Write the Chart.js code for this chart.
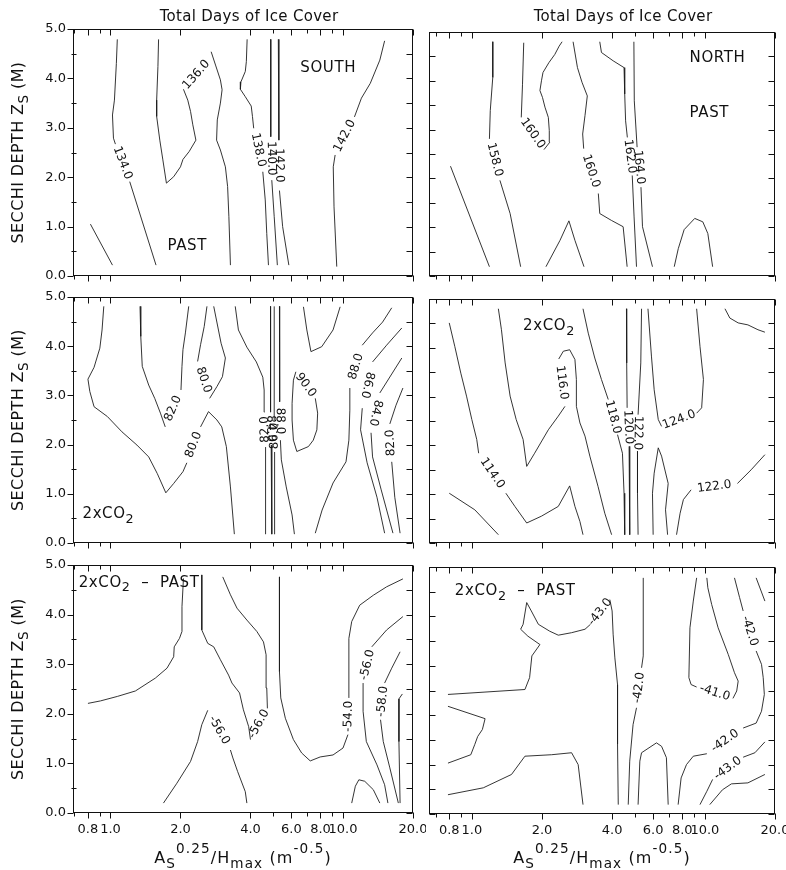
<!DOCTYPE html>
<html>
<head>
<meta charset="utf-8">
<script src="https://cdn.jsdelivr.net/npm/chart.js@4.4.1/dist/chart.umd.min.js"></script>
<style>
  html, body { margin: 0; padding: 0; background: #fff; }
  #wrap { position: relative; width: 786px; height: 870px; overflow: hidden; background: #fff; }
  #wrap canvas { position: absolute; }
</style>
</head>
<body>
<div id="wrap"></div>
<script>
const FONT = '"DejaVu Sans", "Liberation Sans", sans-serif';
const INK = '#111';
const LINE = '#1e1e1e';

// Axis ticks (x is As^0.25/Hmax on a log axis, y is Secchi depth in metres)
const X_TICKS = [0.7, 0.8, 0.9, 1, 2, 4, 5, 6, 7, 8, 9, 10, 20];
const X_LABELS = [0.8, 1, 2, 4, 6, 8, 10, 20];
const Y_TICKS = [0, 0.5, 1, 1.5, 2, 2.5, 3, 3.5, 4, 4.5, 5];
const Y_LABELS = [0, 1, 2, 3, 4, 5];

// Contours: each one is a level and a list of polyline pieces [x, y];
// a label with the level sits in the gap between consecutive pieces.
const SOUTH_PAST = [
  { level: 132, pieces: [[[0.82,1.05],[1.02,0.22]]] },
  { level: 134, pieces: [
      [[1.07,4.79],[1.06,4.30],[1.04,3.56],[1.02,3.26],[1.03,2.79],[1.05,2.67]],
      [[1.21,1.91],[1.57,0.22]] ] },
  { level: 136, pieces: [
      [[1.61,4.79],[1.60,4.24],[1.58,3.56],[1.58,3.23],[1.63,2.75],[1.68,2.35],[1.74,1.88],[1.87,2.01],[2.00,2.21],[2.05,2.36],[2.18,2.52],[2.33,2.75],[2.26,3.06],[2.21,3.33],[2.15,3.56],[2.06,3.78]],
      [[2.66,4.37]] ] },
  { level: 136, pieces: [
      [[2.71,4.54],[2.83,4.27],[2.97,3.97],[3.02,3.77],[2.97,3.50],[2.88,3.16],[2.86,2.75],[2.97,2.55],[3.12,2.21],[3.19,1.81],[3.23,1.20],[3.28,0.22]] ] },
  { level: 138, pieces: [
      [[3.87,4.79],[3.84,4.34],[3.80,4.14],[3.64,3.93],[3.62,3.78],[3.80,3.63],[4.03,3.44],[4.08,3.23],[4.13,2.99]],
      [[4.52,2.11],[4.63,1.54],[4.70,0.86],[4.78,0.22]] ] },
  { level: 140, pieces: [
      [[4.89,4.79],[4.89,2.82]],
      [[4.94,1.94],[5.06,1.20],[5.22,0.22]] ] },
  { level: 142, pieces: [
      [[5.27,4.79],[5.30,2.75]],
      [[5.33,1.73],[5.50,1.00],[5.85,0.22]] ] },
  { level: 142, pieces: [
      [[9.4,0.19],[9.15,1.40],[9.08,2.21],[9.25,2.45]],
      [[11.2,3.22],[12.0,3.60],[13.1,3.90],[14.4,4.37],[15.1,4.76]] ] }
];

const NORTH_PAST = [
  { level: 156, pieces: [[[0.81,2.25],[1.19,0.19]]] },
  { level: 158, pieces: [
      [[1.23,4.80],[1.23,4.07],[1.20,3.39],[1.19,2.81]],
      [[1.32,1.96],[1.46,1.28],[1.62,0.19]] ] },
  { level: 160, pieces: [
      [[1.67,4.78],[1.65,3.93],[1.63,3.25]],
      [[2.04,2.59],[2.16,2.74],[2.15,2.98],[2.13,3.25],[2.06,3.46],[2.01,3.66],[1.96,3.80],[1.99,4.00],[2.02,4.17],[2.14,4.37],[2.27,4.54],[2.37,4.71],[2.44,4.80]] ] },
  { level: 160, pieces: [
      [[2.72,4.80],[2.84,4.27],[2.97,3.97],[3.13,3.69],[3.06,3.29],[2.99,2.91],[3.02,2.61]],
      [[3.49,1.69],[3.54,1.28],[3.97,1.14],[4.46,1.01],[4.64,0.19]] ] },
  { level: 162, pieces: [
      [[3.54,4.80],[3.60,4.58],[4.04,4.41],[4.50,4.27],[4.53,3.73],[4.57,3.18],[4.65,2.84]],
      [[4.88,2.06],[4.97,1.21],[5.09,0.19]] ] },
  { level: 164, pieces: [
      [[4.96,4.80],[4.98,3.59],[5.12,2.64]],
      [[5.32,1.82],[5.40,1.01],[5.96,0.19]] ] },
  { level: 160, pieces: [[[2.08,0.19],[2.39,0.73],[2.61,1.13],[2.77,0.73],[3.03,0.19]]] },
  { level: 166, pieces: [[[7.39,0.19],[7.69,0.56],[8.15,0.95],[9.05,1.18],[9.8,1.11],[10.3,0.87],[10.8,0.19]]] }
];

const SOUTH_2XCO2 = [
  { level: 80, pieces: [
      [[0.936,4.81],[0.92,4.33],[0.90,3.96],[0.85,3.57],[0.80,3.33],[0.815,3.08],[0.85,2.77],[0.97,2.57],[1.12,2.26],[1.30,1.99],[1.46,1.75],[1.59,1.41],[1.73,1.02],[1.87,1.21],[2.05,1.45],[2.13,1.63]],
      [[2.44,2.36],[2.64,2.67],[2.87,2.50],[3.01,2.36],[3.15,1.96],[3.28,1.14],[3.41,0.18]] ] },
  { level: 82, pieces: [
      [[1.34,4.81],[1.35,4.20],[1.37,3.59],[1.46,3.21],[1.55,2.94],[1.64,2.64],[1.72,2.36]],
      [[2.01,3.11],[2.03,3.59],[2.05,3.93],[2.10,4.27],[2.17,4.81]] ] },
  { level: 80, pieces: [
      [[2.60,4.81],[2.53,4.40],[2.44,4.03],[2.37,3.69]],
      [[2.67,2.94],[2.87,3.18],[3.03,3.38],[3.12,3.76],[2.99,4.06],[2.78,4.81]] ] },
  { level: 82, pieces: [
      [[4.65,0.18],[4.65,1.28],[4.64,1.95]],
      [[4.60,2.66],[4.58,3.11],[4.52,3.37],[4.24,3.68],[3.86,3.98],[3.55,4.33],[3.44,4.81]] ] },
  { level: 84, pieces: [
      [[4.88,4.81],[4.88,2.66]],
      [[4.91,1.99],[4.94,0.18]] ] },
  { level: 86, pieces: [
      [[5.09,0.18],[5.08,1.85]],
      [[5.06,2.50],[5.06,4.81]] ] },
  { level: 88, pieces: [
      [[5.33,4.81],[5.34,2.87]],
      [[5.38,2.09],[5.43,1.69],[5.70,1.14],[6.04,0.57],[6.18,0.18]] ] },
  { level: 90, pieces: [[[6.76,4.80],[6.99,4.33],[7.28,3.89],[8.10,3.99],[9.06,4.33],[9.72,4.80]]] },
  { level: 90, pieces: [
      [[7.6,2.94],[7.78,2.64],[7.72,2.30],[7.45,2.09],[7.1,1.96],[6.33,1.86],[6.12,2.09],[6.04,2.50],[6.04,2.84],[6.12,3.31],[6.27,3.48]],
      [[7.6,2.94]] ] },
  { level: 88, pieces: [
      [[7.6,0.20],[8.13,0.67],[9.06,1.22],[10.3,1.65],[10.6,2.09],[10.7,2.70],[10.7,3.15]],
      [[12.1,4.02],[13.4,4.27],[14.8,4.49],[16.2,4.78]] ] },
  { level: 86, pieces: [
      [[17.9,4.37],[15.4,4.02],[13.4,3.68]],
      [[12.1,2.74],[11.9,2.30],[12.7,1.63],[14.0,0.93],[15.1,0.20]] ] },
  { level: 84, pieces: [
      [[17.9,3.76],[14.4,3.05]],
      [[13.2,2.24],[13.4,1.75],[14.6,1.08],[16.4,0.20]] ] },
  { level: 82, pieces: [
      [[17.6,0.20],[16.7,0.93],[16.2,1.65]],
      [[15.9,2.42],[16.9,2.80],[18.1,3.15]] ] }
];

const NORTH_2XCO2 = [
  { level: 114, pieces: [
      [[0.80,4.51],[0.845,4.03],[0.897,3.48],[0.949,3.01],[1.0,2.53],[1.05,2.12],[1.07,1.84]],
      [[1.40,1.02],[1.53,0.75],[1.72,0.41],[1.99,0.55],[2.35,0.75],[2.63,1.17],[2.77,0.75],[2.91,0.44],[3.0,0.17]] ] },
  { level: 112, pieces: [[[0.80,1.02],[1.03,0.68],[1.30,0.17]]] },
  { level: 116, pieces: [
      [[3.98,0.17],[3.72,0.61],[3.48,1.16],[3.21,1.78],[3.06,2.19],[2.91,2.46],[2.81,2.80],[2.81,3.35],[2.77,3.76],[2.63,3.96],[2.47,3.93],[2.36,3.77]],
      [[2.51,2.80],[2.35,2.60],[2.13,2.32],[1.86,1.84],[1.72,1.57],[1.66,2.12],[1.55,2.53],[1.46,3.01],[1.39,3.69],[1.34,4.37],[1.30,4.80]] ] },
  { level: 118, pieces: [
      [[3.0,4.80],[3.16,4.30],[3.37,3.79],[3.60,3.35],[3.85,2.94]],
      [[4.22,2.22],[4.43,1.84],[4.50,1.02],[4.53,0.17]] ] },
  { level: 120, pieces: [
      [[4.61,4.80],[4.62,3.69],[4.64,2.77]],
      [[4.73,1.98],[4.76,1.02],[4.76,0.17]] ] },
  { level: 122, pieces: [
      [[5.35,4.80],[5.31,3.69],[5.17,2.63]],
      [[5.14,1.88],[5.14,1.02],[5.17,0.17]] ] },
  { level: 124, pieces: [
      [[5.70,4.80],[5.90,3.83],[6.06,3.14],[6.31,2.53],[6.52,2.39]],
      [[9.22,2.66],[9.69,2.77],[9.86,3.35],[9.53,4.03],[9.22,4.80]] ] },
  { level: 124, pieces: [[[12.2,4.80],[12.8,4.61],[13.9,4.51],[15.3,4.47],[16.9,4.37],[18.1,4.32]]] },
  { level: 122, pieces: [
      [[7.56,0.17],[7.83,0.61],[8.09,0.89],[8.73,1.09]],
      [[13.8,1.22],[15.8,1.50],[18.1,1.81]] ] },
  { level: 124, pieces: [[[6.0,0.17],[5.96,1.02],[6.06,1.43],[6.31,1.95],[6.52,1.78],[6.96,1.22],[6.78,0.68],[6.92,0.17]]] }
];

const SOUTH_DIFF = [
  { level: -54, pieces: [[[0.80,2.21],[0.906,2.26],[1.07,2.35],[1.28,2.46],[1.56,2.72],[1.75,2.92],[1.87,3.15],[1.88,3.35],[1.98,3.52],[2.03,3.66],[2.03,4.16],[2.06,4.73]]] },
  { level: -56, pieces: [
      [[2.47,4.80],[2.47,3.69],[2.62,3.42],[2.78,3.35],[2.97,3.09],[3.22,2.78],[3.33,2.62],[3.59,2.42],[3.73,2.08],[3.93,1.74],[4.0,1.48]],
      [[4.73,2.11],[4.70,2.52],[4.67,3.19],[4.55,3.45],[4.26,3.66],[3.86,3.89],[3.50,4.13],[3.28,4.40],[3.04,4.76]] ] },
  { level: -56, pieces: [
      [[1.69,0.20],[1.93,0.60],[2.21,1.04],[2.37,1.44],[2.47,1.78],[2.62,2.07]],
      [[3.28,1.27],[3.36,1.11],[3.52,0.84],[3.80,0.43],[3.86,0.20]] ] },
  { level: -54, pieces: [
      [[5.33,4.76],[5.33,2.85],[5.40,2.32],[5.65,1.91],[6.12,1.48],[6.64,1.21],[7.23,1.05],[7.98,1.13],[9.06,1.17],[10.0,1.31],[10.5,1.58]],
      [[10.6,2.32],[10.6,3.52],[10.9,3.86],[11.8,4.19],[13.5,4.39],[15.4,4.56],[18.1,4.72]] ] },
  { level: -56, pieces: [
      [[15.6,0.20],[15.1,0.57],[14.0,0.97],[12.6,1.44],[12.2,2.05],[12.2,2.62]],
      [[13.3,3.35],[15.4,3.69],[18.1,3.96]] ] },
  { level: -58, pieces: [
      [[17.3,0.20],[15.9,0.91],[14.9,1.44],[14.5,1.88]],
      [[15.1,2.62],[16.2,2.92],[17.6,3.25]] ] },
  { level: -60, pieces: [[[18.0,2.40],[17.4,2.30],[17.4,1.44],[17.6,0.20]]] },
  { level: -52, pieces: [[[10.9,0.20],[11.3,0.54],[11.7,0.67],[12.4,0.64],[13.5,0.47],[14.4,0.20]]] }
];

const NORTH_DIFF = [
  { level: -43, pieces: [
      [[0.79,2.42],[1.69,2.52],[1.77,2.76],[1.81,3.20],[1.96,3.43],[1.74,3.60],[1.62,3.74],[1.66,3.84],[1.72,4.28],[1.80,4.11],[1.93,3.84],[2.16,3.70],[2.35,3.62],[2.68,3.67],[3.06,3.74],[3.23,3.84]],
      [[3.91,4.34],[4.0,4.11],[4.04,3.64],[4.11,3.16],[4.22,2.62],[4.22,1.41],[4.25,0.19]] ] },
  { level: -44, pieces: [[[0.79,2.18],[1.14,1.93],[1.11,1.71],[1.06,1.57],[1.03,1.41],[0.99,1.20],[0.79,1.03]]] },
  { level: -43, pieces: [[[0.79,0.39],[1.12,0.53],[1.48,0.80],[1.69,1.17],[2.20,1.20],[2.68,1.24],[2.86,1.00],[3.0,0.19]]] },
  { level: -42, pieces: [
      [[4.69,0.19],[4.76,1.07],[4.92,1.81],[5.09,2.15]],
      [[5.35,2.96],[5.44,3.20],[5.44,4.78]] ] },
  { level: -42, pieces: [[[5.17,0.19],[5.26,1.07],[5.35,1.24],[6.20,1.44],[6.52,1.37],[6.84,1.14],[6.96,0.19]]] },
  { level: -41, pieces: [
      [[9.22,4.78],[8.92,4.31],[8.63,3.77],[8.54,2.76],[8.73,2.62],[9.22,2.57]],
      [[13.2,2.34],[13.7,2.49],[13.9,2.69],[13.4,2.86],[12.6,3.23],[11.4,3.77],[10.7,4.24],[10.3,4.58],[10.2,4.78]] ] },
  { level: -42, pieces: [
      [[13.4,4.78],[14.1,4.38],[14.6,4.11]],
      [[16.6,3.30],[17.5,3.03],[17.8,2.76],[18.0,2.42],[17.5,2.08],[16.6,1.84],[14.6,1.74]] ] },
  { level: -42, pieces: [
      [[7.68,0.19],[7.91,0.73],[8.34,1.00],[8.92,1.17],[10.2,1.22]],
      [[14.6,1.74]] ] },
  { level: -43, pieces: [
      [[9.53,0.19],[10.2,0.46],[10.8,0.70]],
      [[14.6,1.15],[16.4,1.24],[18.1,1.46]] ] },
  { level: -44, pieces: [[[10.5,0.19],[11.9,0.49],[13.0,0.61],[15.3,0.63],[18.1,0.80]]] },
  { level: -43, pieces: [[[16.6,4.78],[18.1,4.31]]] }
];

// Page layout of the two columns and three rows of panels
const COLS = [
  { left: 0,   width: 426, axisW: 73, padRight: 13, xMin: 0.69,  titleX: 249 },
  { left: 416, width: 370, axisW: 13, padRight: 11, xMin: 0.655, titleX: 623 }
];
const ROWS = [
  { top: 0,   height: 287, padTop: [29, 32], axisH: [11, 11] },
  { top: 287, height: 266, padTop: [10, 12], axisH: [10, 10] },
  { top: 553, height: 317, padTop: [12, 14], axisH: [57, 56] }
];

const SUB = 1, SUP = 2;
const PANELS = [
  { key: 'sp', row: 0, col: 0, contours: SOUTH_PAST,
    notes: [ { parts: [['SOUTH', 0]], at: [6.55, 4.13] }, { parts: [['PAST', 0]], at: [1.76, 0.53] } ] },
  { key: 'np', row: 0, col: 1, contours: NORTH_PAST,
    notes: [ { parts: [['NORTH', 0]], at: [8.6, 4.39] }, { parts: [['PAST', 0]], at: [8.6, 3.26] } ] },
  { key: 's2', row: 1, col: 0, contours: SOUTH_2XCO2,
    notes: [ { parts: [['2xCO', 0], ['2', SUB]], at: [0.758, 0.50] } ] },
  { key: 'n2', row: 1, col: 1, contours: NORTH_2XCO2,
    notes: [ { parts: [['2xCO', 0], ['2', SUB]], at: [1.66, 4.36] } ] },
  { key: 'sd', row: 2, col: 0, contours: SOUTH_DIFF,
    notes: [ { parts: [['2xCO', 0], ['2', SUB], ['  \u2013  PAST', 0]], at: [0.73, 4.56] } ] },
  { key: 'nd', row: 2, col: 1, contours: NORTH_DIFF,
    notes: [ { parts: [['2xCO', 0], ['2', SUB], ['  \u2013  PAST', 0]], at: [0.845, 4.43] } ] }
];

// Text with sub/superscripts on one baseline
function drawRich(ctx, parts, x, y, size, align, spacing) {
  ctx.save();
  if ('letterSpacing' in ctx) ctx.letterSpacing = (spacing || 0) + 'px';
  ctx.textBaseline = 'alphabetic';
  ctx.textAlign = 'left';
  ctx.fillStyle = INK;
  const segs = parts.map(([t, m]) => {
    const s = m ? size * 0.85 : size;
    ctx.font = s + 'px ' + FONT;
    return { t, s, dy: m === SUB ? size * 0.3 : (m === SUP ? -size * 0.6 : 0), w: ctx.measureText(t).width };
  });
  const total = segs.reduce((a, g) => a + g.w, 0);
  let cx = align === 'center' ? x - total / 2 : x;
  for (const g of segs) {
    ctx.font = g.s + 'px ' + FONT;
    ctx.fillText(g.t, cx, y + g.dy);
    cx += g.w;
  }
  ctx.restore();
}

function decor(panel) {
  const col = COLS[panel.col], row = ROWS[panel.row];
  return {
    id: 'decor_' + panel.key,
    afterDatasetsDraw(chart) {
      const ctx = chart.ctx, a = chart.chartArea;
      const xs = chart.scales.x, ys = chart.scales.y;
      ctx.save();

      // contour level labels, laid along the gap between pieces
      ctx.font = '12px ' + FONT;
      ctx.fillStyle = INK;
      ctx.textAlign = 'center';
      ctx.textBaseline = 'middle';
      for (const c of panel.contours) {
        for (let i = 0; i + 1 < c.pieces.length; i++) {
          const p = c.pieces[i][c.pieces[i].length - 1];
          const q = c.pieces[i + 1][0];
          const x1 = xs.getPixelForValue(p[0]), y1 = ys.getPixelForValue(p[1]);
          const x2 = xs.getPixelForValue(q[0]), y2 = ys.getPixelForValue(q[1]);
          ctx.save();
          ctx.translate((x1 + x2) / 2, (y1 + y2) / 2);
          ctx.rotate(Math.atan2(y2 - y1, x2 - x1));
          ctx.fillText(c.level.toFixed(1), 0, 0);
          ctx.restore();
        }
      }

      // frame and tick marks
      ctx.strokeStyle = INK;
      ctx.lineWidth = 1;
      const L = Math.round(a.left) + 0.5, R = Math.round(a.right) - 0.5;
      const T = Math.round(a.top) + 0.5, B = Math.round(a.bottom) - 0.5;
      ctx.strokeRect(L, T, R - L, B - T);
      ctx.beginPath();
      for (const v of X_TICKS) {
        const px = Math.round(xs.getPixelForValue(v)) + 0.5;
        const len = X_LABELS.includes(v) ? 6 : 4;
        ctx.moveTo(px, T); ctx.lineTo(px, T + len);
        ctx.moveTo(px, B); ctx.lineTo(px, B + len);
      }
      for (const v of Y_TICKS) {
        const py = Math.round(ys.getPixelForValue(v)) + 0.5;
        const major = Y_LABELS.includes(v);
        if (panel.col === 0) {
          if (major) { ctx.moveTo(L - 6, py); ctx.lineTo(L, py); }
          else { ctx.moveTo(L - 2, py); ctx.lineTo(L + 3, py); }
        } else {
          ctx.moveTo(L, py); ctx.lineTo(L + 6, py);
        }
        ctx.moveTo(R, py); ctx.lineTo(R - 6, py);
      }
      ctx.stroke();

      // panel notes
      for (const n of panel.notes) {
        drawRich(ctx, n.parts, xs.getPixelForValue(n.at[0]), ys.getPixelForValue(n.at[1]), 15, 'left', 0.6);
      }

      // column title
      if (panel.row === 0) {
        drawRich(ctx, [['Total Days of Ice Cover', 0]], col.titleX - col.left, 21, 15, 'center', 0.3);
      }
      // y axis title
      if (panel.col === 0) {
        ctx.save();
        ctx.translate(23, (a.top + a.bottom) / 2);
        ctx.rotate(-Math.PI / 2);
        drawRich(ctx, [['SECCHI DEPTH Z', 0], ['S', SUB], [' (M)', 0]], 0, 0, 16, 'center', 0.4);
        ctx.restore();
      }
      // x axis title
      if (panel.row === 2) {
        drawRich(ctx, [['A', 0], ['S', SUB], ['0.25', SUP], ['/H', 0], ['max', SUB], [' (m', 0], ['-0.5', SUP], [')', 0]],
          (a.left + a.right) / 2, 863 - row.top, 16, 'center', 1.1);
      }
      ctx.restore();
    }
  };
}

function buildDatasets(contours) {
  const out = [];
  for (const c of contours) {
    for (const piece of c.pieces) {
      if (piece.length < 2) continue;
      out.push({
        data: piece.map(([x, y]) => ({ x, y })),
        showLine: true, borderColor: LINE, borderWidth: 0.9,
        pointRadius: 0, pointHoverRadius: 0, tension: 0, fill: false
      });
    }
  }
  return out;
}

const wrap = document.getElementById('wrap');
for (const panel of PANELS) {
  const col = COLS[panel.col], row = ROWS[panel.row];
  const cv = document.createElement('canvas');
  cv.width = col.width; cv.height = row.height;
  cv.style.left = col.left + 'px'; cv.style.top = row.top + 'px';
  cv.style.width = col.width + 'px'; cv.style.height = row.height + 'px';
  wrap.appendChild(cv);

  new Chart(cv.getContext('2d'), {
    type: 'scatter',
    data: { datasets: buildDatasets(panel.contours) },
    options: {
      responsive: false, animation: false, devicePixelRatio: 1, events: [],
      layout: { padding: { top: row.padTop[panel.col], right: col.padRight, bottom: 0, left: 0 } },
      plugins: { legend: { display: false }, tooltip: { enabled: false } },
      scales: {
        x: {
          type: 'logarithmic', position: 'bottom', min: col.xMin, max: 20,
          afterBuildTicks: s => { s.ticks = X_TICKS.map(v => ({ value: v })); },
          afterFit: s => { s.height = row.axisH[panel.col]; s.paddingLeft = 0; s.paddingRight = 0; },
          ticks: {
            display: panel.row === 2, autoSkip: false, maxRotation: 0, minRotation: 0, padding: 9,
            color: INK, font: { family: FONT, size: 13 },
            callback: v => X_LABELS.includes(v) ? v.toFixed(1) : ''
          },
          grid: { display: false, drawTicks: false }, border: { display: false }
        },
        y: {
          type: 'linear', position: 'left', min: 0, max: 5,
          afterBuildTicks: s => { s.ticks = Y_TICKS.map(v => ({ value: v })); },
          afterFit: s => { s.width = col.axisW; s.paddingTop = 0; s.paddingBottom = 0; },
          ticks: {
            display: panel.col === 0, autoSkip: false, padding: 7,
            color: INK, font: { family: FONT, size: 13 },
            callback: v => Y_LABELS.includes(v) ? v.toFixed(1) : ''
          },
          grid: { display: false, drawTicks: false }, border: { display: false }
        }
      }
    },
    plugins: [decor(panel)]
  });
}
</script>
</body>
</html>
